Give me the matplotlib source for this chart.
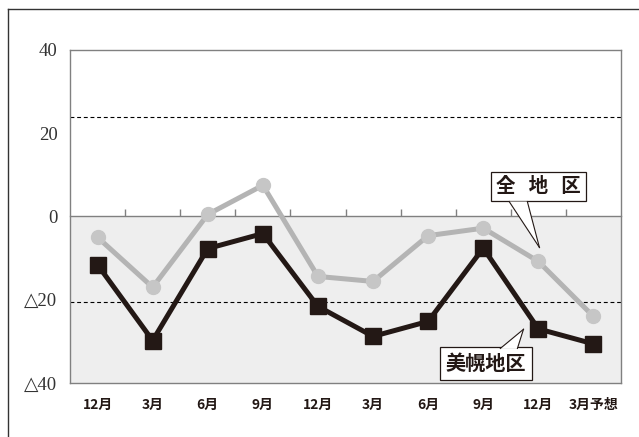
"""全地区・美幌地区の景況感推移（折れ線グラフ）を再現するスクリプト。

出力:
    - out.png
"""

from __future__ import annotations

import matplotlib

matplotlib.use("Agg")
import matplotlib.pyplot as plt
from matplotlib.lines import Line2D
from matplotlib.patches import Polygon

# フォント設定（数字は明朝系、日本語はゴシック）
JP_FONT = ["Noto Sans CJK JP", "DejaVu Sans"]
SERIF_FONT = ["Liberation Serif", "DejaVu Serif", "Noto Sans CJK JP"]
plt.rcParams["font.family"] = SERIF_FONT

# データ定義
PERIODS = ["12月", "3月", "6月", "9月", "12月", "3月", "6月", "9月", "12月", "3月予想"]
ALL_AREA = [-5, -17, 0.5, 7.5, -14.4, -15.6, -4.6, -2.8, -10.8, -24]
BIHORO = [-11.6, -29.8, -7.7, -4.1, -21.6, -28.8, -25.2, -7.6, -27, -30.6]
Y_TICKS = [-40, -20, 0, 20, 40]
Y_TICK_LABELS = ["△40", "△20", "0", "20", "40"]
REF_LINES = [24, -20.6]

# 色定義
GRAY_LINE = "#b4b4b4"
GRAY_MARK = "#c6c6c6"
DARK = "#231815"
SPINE = "#808080"
SHADE = "#eeeeee"


def add_callout(ax, text, center, base, tip, fontsize):
    """吹き出し付きのラベルを描画する。"""
    ax.text(
        center[0], center[1], text,
        ha="center", va="center", fontsize=fontsize, fontweight="bold",
        family=JP_FONT, color=DARK, zorder=6,
        bbox={"boxstyle": "square,pad=0.28", "fc": "white", "ec": DARK, "lw": 0.9},
    )
    # しっぽ部分（白で枠線を切ってから2本の線を引く）
    ax.add_patch(Polygon([base[0], tip, base[1]], closed=True, fc="white", ec="none", zorder=7))
    for b in base:
        ax.add_line(Line2D([b[0], tip[0]], [b[1], tip[1]], color=DARK, lw=0.8, zorder=8))


def main() -> None:
    fig = plt.figure(figsize=(6.39, 4.37), dpi=100)
    ax = fig.add_axes([70 / 639, 1 - 383 / 437, 551 / 639, 333 / 437])

    x = list(range(len(PERIODS)))

    # 背景（マイナス領域を灰色に）
    ax.axhspan(-40, 0, color=SHADE, zorder=0.5, lw=0)
    for y in REF_LINES:
        ax.axhline(y, color="black", lw=0.8, ls=(0, (3.5, 2.5)), zorder=1)

    ax.plot(x, ALL_AREA, color=GRAY_LINE, lw=3.6, marker="o", ms=10,
            mfc=GRAY_MARK, mec=GRAY_MARK, zorder=3)
    ax.plot(x, BIHORO, color=DARK, lw=3.6, marker="s", ms=11.5,
            mfc=DARK, mec=DARK, zorder=4)

    ax.set_xlim(-0.5, len(PERIODS) - 0.5)
    ax.set_ylim(-40, 40)

    ax.set_xticks(x, PERIODS)
    ax.tick_params(axis="x", length=0, pad=11)
    for lbl in ax.get_xticklabels():
        lbl.set_fontfamily(JP_FONT)
        lbl.set_fontsize(10)
        lbl.set_fontweight("bold")
        lbl.set_color(DARK)
    ax.set_yticks(Y_TICKS, Y_TICK_LABELS)
    ax.tick_params(axis="y", length=0, pad=9, labelsize=13.5, labelcolor="#333333")

    for sp in ax.spines.values():
        sp.set_color(SPINE)
        sp.set_linewidth(1.0)

    # 0ライン上の目盛り
    sec = ax.secondary_xaxis(0.5)
    sec.set_xticks([i + 0.5 for i in x[:-1]], [""] * (len(x) - 1))
    sec.tick_params(axis="x", direction="out", length=5, color=SPINE, width=1.0)
    for sp in sec.spines.values():
        sp.set_color(SPINE)
        sp.set_linewidth(1.0)
    sec.set_zorder(2)

    # 吹き出し
    add_callout(ax, "全   地   区", (8.0, 7.2), [(7.47, 3.6), (7.8, 3.6)], (8.02, -7.45), 14)
    add_callout(ax, "美幌地区", (7.05, -35.3), [(7.31, -31.7), (7.62, -31.7)], (7.73, -27.1), 14.5)

    # 外枠（左と上）
    fig.add_artist(Line2D([8 / 639, 8 / 639], [0, 1 - 9 / 437], color="#333333", lw=1.0))
    fig.add_artist(Line2D([8 / 639, 1], [1 - 9 / 437, 1 - 9 / 437], color="#333333", lw=1.0))

    fig.savefig("out.png", dpi=100)
    plt.close(fig)


if __name__ == "__main__":
    main()
